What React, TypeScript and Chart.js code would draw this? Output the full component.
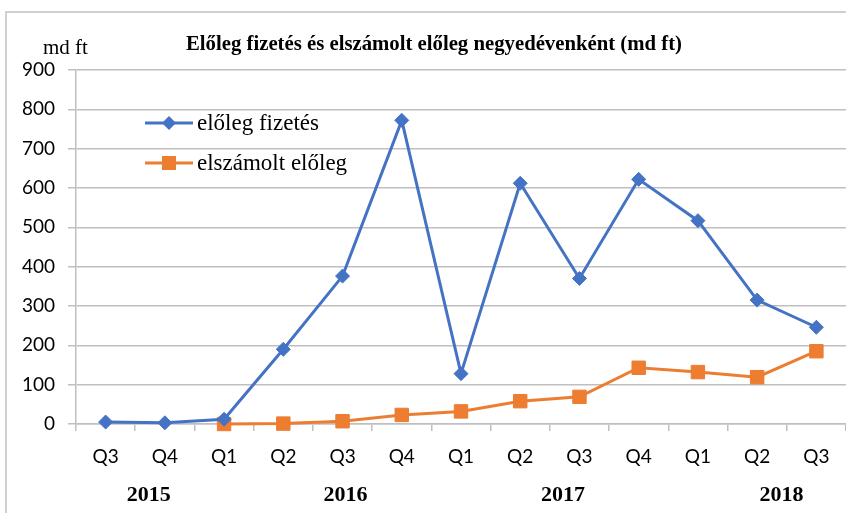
import React, { useEffect, useRef } from "react";
import { Chart, registerables } from "chart.js";

Chart.register(...registerables);

const quarters = ["Q3", "Q4", "Q1", "Q2", "Q3", "Q4", "Q1", "Q2", "Q3", "Q4", "Q1", "Q2", "Q3"];
const elolegFizetes = [5, 3, 12, 190, 376, 772, 128, 612, 370, 622, 517, 315, 246];
const elszamoltEloleg = [null, null, 0, 1, 7, 23, 32, 58, 69, 143, 132, 119, 185];
const years = ["2015", "2016", "2017", "2018"];
const yTicks = [0, 100, 200, 300, 400, 500, 600, 700, 800, 900];
const seriesNames = ["előleg fizetés", "elszámolt előleg"];
const titleText = "Előleg fizetés és elszámolt előleg negyedévenként (md ft)";
const unitText = "md ft";

const BLUE = "#4472C4";
const ORANGE = "#ED7D31";
const GRID = "#bfbfbf";
const TICK_FONT = "Lato, 'Open Sans', sans-serif";
const SERIF = "'Liberation Serif', 'Times New Roman', serif";

// year label anchors, as fractional category index
const yearAnchor = [0.73, 4.05, 7.72, 11.41];

const decorPlugin = {
  id: "decor",
  beforeDraw(chart: any) {
    const ctx = chart.ctx;
    ctx.save();
    ctx.strokeStyle = "#d0d0d0";
    ctx.lineWidth = 2;
    ctx.beginPath();
    ctx.moveTo(6, chart.height);
    ctx.lineTo(6, 12);
    ctx.lineTo(chart.width, 12);
    ctx.stroke();
    ctx.restore();
  },
  afterDraw(chart: any) {
    const ctx = chart.ctx;
    const xs = chart.scales.x;
    ctx.save();
    // title (condensed)
    ctx.fillStyle = "#000";
    ctx.font = "bold 22px " + SERIF;
    ctx.textBaseline = "alphabetic";
    ctx.textAlign = "left";
    const w = ctx.measureText(titleText).width;
    const target = 496;
    ctx.save();
    ctx.translate(186, 50);
    ctx.scale(target / w, 1);
    ctx.fillText(titleText, 0, 0);
    ctx.restore();

    // unit label
    ctx.font = "21px " + SERIF;
    ctx.textBaseline = "middle";
    ctx.textAlign = "left";
    ctx.fillText(unitText, 43, 48);

    // years
    ctx.font = "bold 22px " + SERIF;
    ctx.textAlign = "center";
    years.forEach((y, i) => {
      ctx.fillText(y, xs.getPixelForValue(yearAnchor[i]), 495);
    });

    // legend
    const items = [
      { name: seriesNames[0], color: BLUE, style: "rectRot" },
      { name: seriesNames[1], color: ORANGE, style: "rect" },
    ];
    items.forEach((it, i) => {
      const y = 123 + i * 40;
      ctx.strokeStyle = it.color;
      ctx.lineWidth = 3;
      ctx.beginPath();
      ctx.moveTo(145, y);
      ctx.lineTo(193, y);
      ctx.stroke();
      ctx.fillStyle = it.color;
      ctx.beginPath();
      if (it.style === "rectRot") {
        ctx.moveTo(169 - 7, y);
        ctx.lineTo(169, y - 7);
        ctx.lineTo(169 + 7, y);
        ctx.lineTo(169, y + 7);
        ctx.closePath();
      } else {
        ctx.rect(169 - 7, y - 7, 14, 14);
      }
      ctx.fill();
      ctx.fillStyle = "#000";
      ctx.font = "23px " + SERIF;
      ctx.textAlign = "left";
      ctx.textBaseline = "middle";
      ctx.fillText(it.name, 197, y + 1);
    });
    ctx.restore();
  },
};

export default function App() {
  const ref = useRef<HTMLCanvasElement | null>(null);
  useEffect(() => {
    if (!ref.current) return;
    const chart = new Chart(ref.current, {
      type: "line",
      data: {
        labels: quarters,
        datasets: [
          {
            label: seriesNames[0],
            data: elolegFizetes,
            borderColor: BLUE,
            backgroundColor: BLUE,
            borderWidth: 3,
            pointStyle: "rectRot",
            pointRadius: 7,
            pointBorderWidth: 1,
            tension: 0,
            clip: false as any,
          },
          {
            label: seriesNames[1],
            data: elszamoltEloleg as any,
            borderColor: ORANGE,
            backgroundColor: ORANGE,
            borderWidth: 3,
            pointStyle: "rect",
            pointRadius: 9.5,
            pointBorderWidth: 1,
            tension: 0,
            clip: false as any,
          },
        ],
      },
      options: {
        responsive: false,
        animation: false,
        layout: { autoPadding: false, padding: { top: 70, left: 0, right: 0, bottom: 0 } },
        plugins: {
          legend: { display: false },
          title: { display: false },
          tooltip: { enabled: false },
        },
        scales: {
          x: {
            offset: true,
            grid: {
              offset: true,
              drawOnChartArea: false,
              tickLength: 7,
              color: GRID,
              lineWidth: 1.5,
            },
            border: { color: GRID, width: 1.5 },
            ticks: {
              color: "#000",
              font: { family: TICK_FONT, size: 19 },
              padding: 14,
              maxRotation: 0,
            },
            afterFit: (s: any) => {
              s.height = 89;
              s.paddingLeft = 0;
              s.paddingRight = 0;
            },
          },
          y: {
            min: 0,
            max: 900,
            afterBuildTicks: (s: any) => {
              s.ticks = yTicks.map((v) => ({ value: v }));
            },
            grid: { color: GRID, tickLength: 8, lineWidth: 1.5 },
            border: { color: GRID, width: 1.5 },
            ticks: {
              color: "#000",
              font: { family: TICK_FONT, size: 19 },
              padding: 13,
            },
            afterFit: (s: any) => {
              s.width = 76;
              s.paddingTop = 0;
              s.paddingBottom = 0;
            },
          },
        },
      },
      plugins: [decorPlugin],
    });
    return () => chart.destroy();
  }, []);
  return (
    <div style={{ position: "absolute", left: 0, top: 0, width: 846, height: 513, background: "#fff" }}>
      <canvas ref={ref} width={846} height={513} style={{ width: 846, height: 513, display: "block" }} />
    </div>
  );
}
